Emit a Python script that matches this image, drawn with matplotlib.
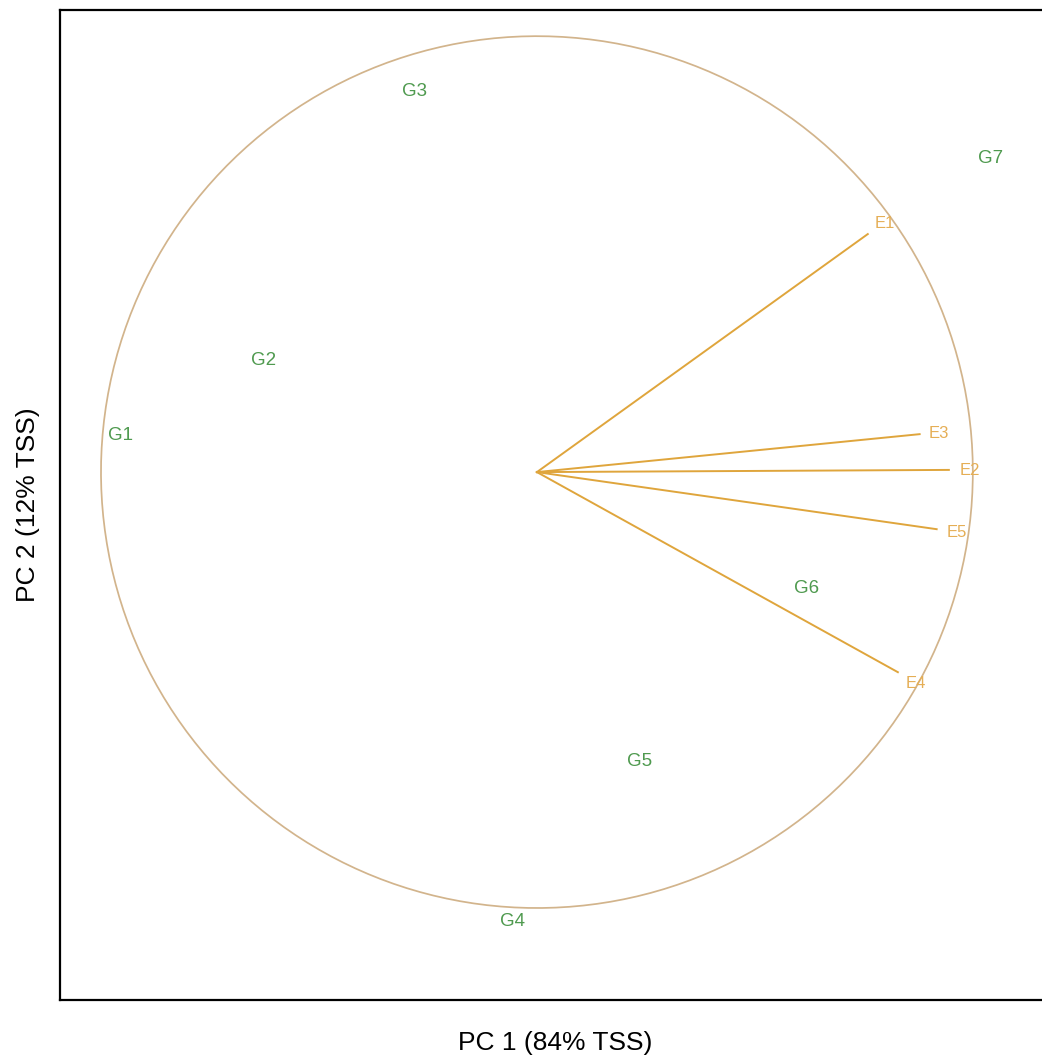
import numpy as np
import matplotlib.pyplot as plt

plt.rcParams['font.family'] = ['Liberation Sans', 'DejaVu Sans']

# genotype scores (PC1, PC2), circle radius = 1
gen_names = ['G1', 'G2', 'G3', 'G4', 'G5', 'G6', 'G7']
gen_x = [-0.956, -0.628, -0.280, -0.057, 0.236, 0.619, 1.041]
gen_y = [0.083, 0.255, 0.872, -1.032, -0.663, -0.268, 0.720]

# environment vectors
env_names = ['E1', 'E2', 'E3', 'E4', 'E5']
env_x = [0.759, 0.945, 0.878, 0.828, 0.917]
env_y = [0.546, 0.005, 0.087, -0.459, -0.131]

xlab = 'PC 1 (84% TSS)'
ylab = 'PC 2 (12% TSS)'

gen_col = '#4f9a4f'
env_col = '#dfa53c'
env_txt = '#e5ae55'
circ_col = '#d2b48c'

fig = plt.figure(figsize=(10.42, 10.57), dpi=100)
ax = fig.add_axes([60/1042, 57/1057, 990/1042, 990/1057])
ax.set_xlim(-1.094, 1.177)
ax.set_ylim(-1.211, 1.060)

# circle
t = np.linspace(0, 2*np.pi, 400)
ax.plot(np.cos(t), np.sin(t), color=circ_col, lw=1.25)

# environment vectors
for n, x, y in zip(env_names, env_x, env_y):
    ax.plot([0, x], [0, y], color=env_col, lw=1.4)
    ax.text(x*1.05, y*1.05 - 0.002, n, color=env_txt, fontsize=12, ha='center', va='center')

for n, x, y in zip(gen_names, gen_x, gen_y):
    ax.text(x, y, n, color=gen_col, fontsize=13.5, ha='center', va='center')

ax.set_xticks([])
ax.set_yticks([])
for s in ax.spines.values():
    s.set_linewidth(1.6)

fig.text(555/1042, 1-1043/1057, xlab, fontsize=19, ha='center', va='center')
fig.text(28/1042, 1-505/1057, ylab, fontsize=19, ha='center', va='center', rotation=90)

fig.savefig('out.png', dpi=100)
